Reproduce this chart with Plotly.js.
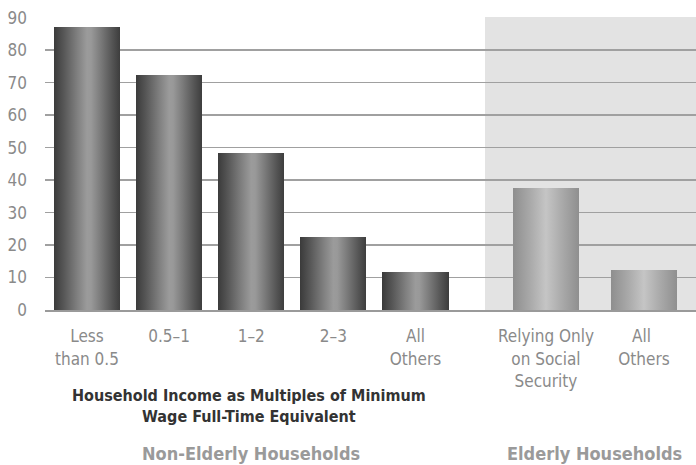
<!DOCTYPE html>
<html>
<head>
<meta charset="utf-8">
<script src="https://cdn.plot.ly/plotly-3.0.1.min.js"></script>
<style>
  html, body { margin: 0; padding: 0; background: #fff; }
  #chart { width: 696px; height: 465px; }
</style>
</head>
<body>
<div id="chart"></div>
<script>
// Share of households (percent) by income group
const nonElderlyCategories = ['Less<br>than 0.5', '0.5–1', '1–2', '2–3', 'All<br>Others'];
const nonElderlyValues = [87, 72.2, 48.2, 22.4, 11.7];

const elderlyCategories = ['Relying Only<br>on Social<br>Security', 'All <br>Others'];
const elderlyValues = [37.5, 12.3];

const yTickValues = [0, 10, 20, 30, 40, 50, 60, 70, 80, 90];

const groupTitle = '<b>Household Income as Multiples of Minimum<br>Wage Full-Time Equivalent</b>';
const leftPanelTitle = '<b>Non-Elderly Households</b>';
const rightPanelTitle = '<b>Elderly Households</b>';

const FONT = '"DejaVu Sans Condensed", "Liberation Sans Narrow", "Arial Narrow", sans-serif';
const W = 696, H = 465;
const plotLeft = 45, plotTop = 17, plotBottom = 310, splitX = 485;
const plotH = plotBottom - plotTop;
const py = px => (plotBottom - px) / plotH;   // pixel row -> paper y
const px2x = px => (px - plotLeft) / (W - plotLeft);   // pixel column -> paper x

const traces = [
  {
    type: 'bar', x: nonElderlyCategories, y: nonElderlyValues,
    xaxis: 'x', yaxis: 'y', width: 0.804,
    marker: { color: '#6e6e6e', line: { width: 0 } },
    hoverinfo: 'skip', showlegend: false
  },
  {
    type: 'bar', x: elderlyCategories, y: elderlyValues,
    xaxis: 'x2', yaxis: 'y', width: 0.673,
    marker: { color: '#ababab', line: { width: 0 } },
    hoverinfo: 'skip', showlegend: false
  }
];

const catAxis = {
  type: 'category',
  showgrid: false,
  zeroline: false,
  showline: true,
  linecolor: '#9a9a9a',
  linewidth: 2,
  ticks: '',
  ticklabelstandoff: 10,
  tickfont: { family: FONT, size: 17, color: '#8a8a8a' },
  fixedrange: true
};

const layout = {
  width: W, height: H,
  margin: { l: plotLeft, r: 0, t: plotTop, b: H - plotBottom, pad: 0 },
  paper_bgcolor: '#ffffff',
  plot_bgcolor: 'rgba(0,0,0,0)',
  bargap: 0,
  font: { family: FONT },
  xaxis: Object.assign({}, catAxis, {
    domain: [0, (splitX - plotLeft) / (W - plotLeft)],
    range: [-0.511, 4.846],
    anchor: 'y'
  }),
  xaxis2: Object.assign({}, catAxis, {
    domain: [(splitX - plotLeft) / (W - plotLeft), 1],
    range: [-0.622, 1.531],
    anchor: 'y'
  }),
  yaxis: {
    range: [0, 90.2],
    tickvals: yTickValues,
    showgrid: true,
    gridcolor: '#a0a0a0',
    gridwidth: 1.5,
    zeroline: false,
    showline: false,
    ticks: '',
    ticklabelstandoff: 17,
    tickfont: { family: FONT, size: 17, color: '#8a8a8a' },
    fixedrange: true
  },
  shapes: [
    {
      type: 'rect', xref: 'x2 domain', yref: 'paper',
      x0: 0, x1: 1.01, y0: 0, y1: 1,
      fillcolor: '#e3e3e3', line: { width: 0 }, layer: 'below'
    }
  ],
  annotations: [
    {
      text: groupTitle, xref: 'paper', yref: 'paper',
      x: px2x(249), y: py(406),
      xanchor: 'center', yanchor: 'middle', showarrow: false, align: 'center',
      font: { family: FONT, size: 16, color: '#333333' }
    },
    {
      text: leftPanelTitle, xref: 'paper', yref: 'paper',
      x: px2x(251), y: py(453),
      xanchor: 'center', yanchor: 'middle', showarrow: false,
      font: { family: FONT, size: 18, color: '#9a9a9a' }
    },
    {
      text: rightPanelTitle, xref: 'paper', yref: 'paper',
      x: px2x(594), y: py(453),
      xanchor: 'center', yanchor: 'middle', showarrow: false,
      font: { family: FONT, size: 18, color: '#9a9a9a' }
    }
  ]
};

// Horizontal metallic shading for the bars
function addBarGradients(gd) {
  const svgNS = 'http://www.w3.org/2000/svg';
  const defs = gd.querySelector('.main-svg defs');
  const makeGrad = (id, stops) => {
    const g = document.createElementNS(svgNS, 'linearGradient');
    g.setAttribute('id', id);
    g.setAttribute('x1', '0'); g.setAttribute('x2', '1');
    g.setAttribute('y1', '0'); g.setAttribute('y2', '0');
    stops.forEach(([o, c]) => {
      const s = document.createElementNS(svgNS, 'stop');
      s.setAttribute('offset', o);
      s.setAttribute('stop-color', c);
      g.appendChild(s);
    });
    defs.appendChild(g);
  };
  makeGrad('barDark', [
    [0, '#3b3b3b'], [0.15, '#575757'], [0.35, '#7f7f7f'], [0.5, '#9b9b9b'],
    [0.56, '#999999'], [0.7, '#7c7c7c'], [0.88, '#555555'], [1, '#3d3d3d']
  ]);
  makeGrad('barLight', [
    [0, '#8e8e8e'], [0.25, '#a8a8a8'], [0.5, '#c5c5c5'], [0.75, '#a9a9a9'], [1, '#8f8f8f']
  ]);
  const traceGroups = gd.querySelectorAll('.barlayer .trace');
  traceGroups.forEach((tg, i) => {
    tg.querySelectorAll('.point path').forEach(p => {
      p.style.fill = i === 0 ? 'url(#barDark)' : 'url(#barLight)';
    });
  });
}

const gd = document.getElementById('chart');
Plotly.newPlot(gd, traces, layout, { displayModeBar: false, staticPlot: true })
  .then(addBarGradients);
</script>
</body>
</html>
